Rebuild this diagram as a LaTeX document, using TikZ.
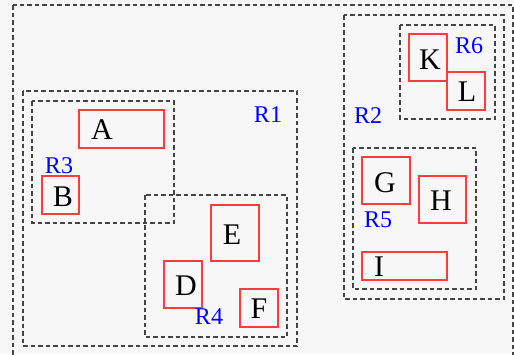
\documentclass[tikz,border=0pt]{standalone}
\usepackage{fontspec}
\setmainfont{Liberation Serif}
\usepackage{tikz}

\definecolor{paper}{HTML}{F7F7F7}
\definecolor{boxred}{HTML}{FF3B3B}
\definecolor{dashgray}{HTML}{444444}

\tikzset{
    region/.style = {draw=dashgray, line width=1.5pt, dash pattern=on 4.5pt off 3pt},
    item/.style = {draw=boxred, line width=1.3pt},
    letter/.style = {inner sep=0pt, font=\fontsize{30}{32}\selectfont},
    rlabel/.style = {inner sep=0pt, text=blue, font=\fontsize{24}{26}\selectfont}
}

\begin{document}
\begin{tikzpicture}[x=1pt, y=-1pt]
        \fill[paper] (0,0) rectangle (514,354);
        \useasboundingbox (0,0) rectangle (514,354);
        \clip (0,0) rectangle (514,354);
        % regions
        \draw[region] (13,5) rectangle (513,362);
        \draw[region] (23,91) rectangle (297,346);
        \draw[region] (32,101) rectangle (174,223);
        \draw[region] (145,195) rectangle (287,337);
        \draw[region] (344,15) rectangle (504,299);
        \draw[region] (400,25) rectangle (495,119);
        \draw[region] (353,148) rectangle (476,289);
        % objects
        \draw[item] (79,110) rectangle (164,148);
        \draw[item] (42,176) rectangle (79,214);
        \draw[item] (211,205) rectangle (259,261);
        \draw[item] (164,261) rectangle (202,308);
        \draw[item] (240,289) rectangle (278,327);
        \draw[item] (409,34) rectangle (447,81);
        \draw[item] (447,72) rectangle (485,110);
        \draw[item] (362,157) rectangle (410,204);
        \draw[item] (419,176) rectangle (466,223);
        \draw[item] (362,252) rectangle (447,280);
        \node[letter] (A) at (102,130) {A};
        \node[letter] (B) at (63,197) {B};
        \node[letter] (E) at (232,235) {E};
        \node[letter] (D) at (186,286) {D};
        \node[letter] (F) at (259,309) {F};
        \node[letter] (K) at (430,60) {K};
        \node[letter] (L) at (467,92) {L};
        \node[letter] (G) at (385,183) {G};
        \node[letter] (H) at (441,201) {H};
        \node[letter] (I) at (379,267) {I};
        % region names
        \node[rlabel] (R1) at (268,115) {R1};
        \node[rlabel] (R2) at (368,116) {R2};
        \node[rlabel] (R3) at (59,166) {R3};
        \node[rlabel] (R4) at (209,317) {R4};
        \node[rlabel] (R5) at (378,220) {R5};
        \node[rlabel] (R6) at (469,46) {R6};
    \end{tikzpicture}
\end{document}
